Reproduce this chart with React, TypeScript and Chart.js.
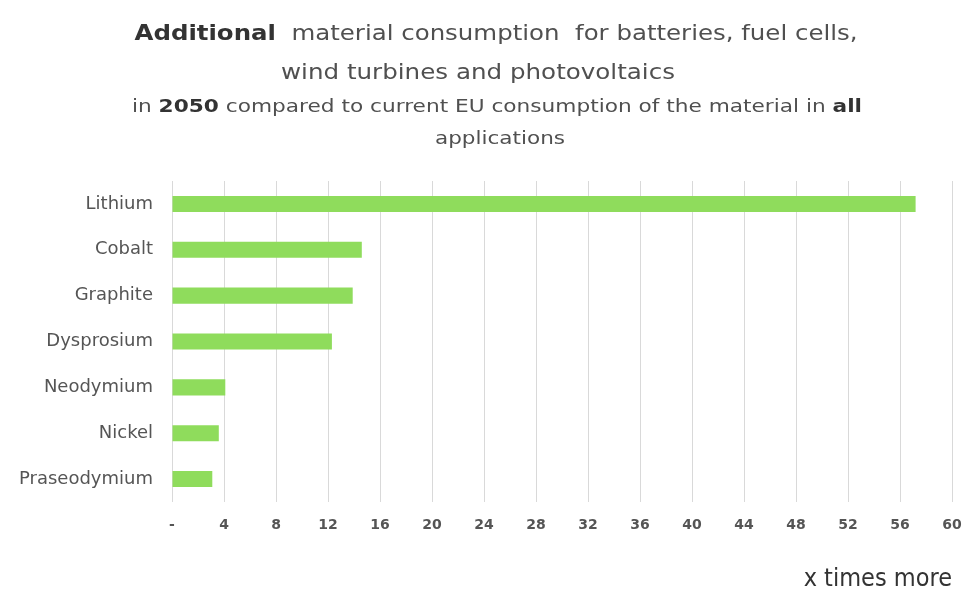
import React, { useEffect, useRef } from "react";
import { Chart, registerables } from "chart.js";

Chart.register(...registerables);

// Materials, top to bottom
const materials = [
  "Lithium",
  "Cobalt",
  "Graphite",
  "Dysprosium",
  "Neodymium",
  "Nickel",
  "Praseodymium",
];

// Additional 2050 demand as a multiple of today's EU consumption
const timesMore = [57.2, 14.6, 13.9, 12.3, 4.1, 3.6, 3.1];

const axisMin = 0;
const axisMax = 60;
const axisStep = 4;
const zeroTickLabel = "-";
const axisTitle = "x times more";

const FONT = "'DejaVu Sans', 'Open Sans', sans-serif";

type Run = [string, boolean];
interface TitleLine {
  runs: Run[];
  size: number;
  cx: number;
  y: number;
  width: number;
}

// Headline and sub-headline, drawn on the canvas with mixed weights
const titleLines: TitleLine[] = [
  {
    runs: [
      ["Additional", true],
      ["  material consumption  for batteries, fuel cells,", false],
    ],
    size: 22,
    cx: 496,
    y: 40,
    width: 723,
  },
  {
    runs: [["wind turbines and photovoltaics", false]],
    size: 22,
    cx: 478,
    y: 79,
    width: 394,
  },
  {
    runs: [
      ["in ", false],
      ["2050", true],
      [" compared to current EU consumption of the material in ", false],
      ["all", true],
    ],
    size: 18,
    cx: 497,
    y: 112,
    width: 730,
  },
  {
    runs: [["applications", false]],
    size: 18,
    cx: 500,
    y: 144,
    width: 130,
  },
];

const titlePlugin = {
  id: "richTitle",
  afterDraw(chart: Chart) {
    const ctx = chart.ctx;
    ctx.save();
    ctx.textBaseline = "alphabetic";
    ctx.textAlign = "left";
    for (const line of titleLines) {
      const fontFor = (bold: boolean) =>
        `${bold ? "bold " : ""}${line.size}px ${FONT}`;
      let total = 0;
      for (const [text, bold] of line.runs) {
        ctx.font = fontFor(bold);
        total += ctx.measureText(text).width;
      }
      const sx = line.width / total;
      ctx.save();
      ctx.translate(line.cx - line.width / 2, line.y);
      ctx.scale(sx, 1);
      let x = 0;
      for (const [text, bold] of line.runs) {
        ctx.font = fontFor(bold);
        ctx.fillStyle = bold ? "#333333" : "#505050";
        ctx.fillText(text, x, 0);
        x += ctx.measureText(text).width;
      }
      ctx.restore();
    }
    ctx.restore();
  },
};

export default function App() {
  const canvasRef = useRef<HTMLCanvasElement | null>(null);

  useEffect(() => {
    const canvas = canvasRef.current;
    if (!canvas) return;
    const chart = new Chart(canvas, {
      type: "bar",
      data: {
        labels: materials,
        datasets: [
          {
            data: timesMore,
            backgroundColor: "#8fdc5c",
            borderWidth: 0,
            barPercentage: 0.35,
            categoryPercentage: 1,
          },
        ],
      },
      options: {
        indexAxis: "y",
        animation: false,
        responsive: false,
        devicePixelRatio: 1,
        layout: { padding: { top: 181, right: 10, left: 0, bottom: 0 } },
        plugins: {
          legend: { display: false },
          tooltip: { enabled: false },
          title: { display: false },
        },
        scales: {
          x: {
            min: axisMin,
            max: axisMax,
            grid: { color: "#d9d9d9", drawTicks: false, lineWidth: 1 },
            border: { display: false },
            ticks: {
              stepSize: axisStep,
              padding: 15,
              color: "#555555",
              font: { family: FONT, size: 14, weight: "bold" },
              callback: (v: any) => (Number(v) === 0 ? zeroTickLabel : String(v)),
            },
            title: {
              display: true,
              text: axisTitle,
              align: "end",
              color: "#333333",
              font: { family: "'Liberation Sans Narrow', 'DejaVu Sans Condensed', sans-serif", size: 25 },
              padding: { top: 27, bottom: -4 },
            },
            afterFit: (scale: any) => {
              scale.height = 88;
              scale.paddingLeft = 0;
              scale.paddingRight = 0;
            },
          },
          y: {
            grid: { display: false, drawTicks: false },
            border: { display: false },
            ticks: {
              padding: 19,
              color: "#555555",
              font: { family: FONT, size: 18 },
            },
            afterFit: (scale: any) => {
              scale.width = 172;
            },
          },
        },
      },
      plugins: [titlePlugin],
    });
    return () => chart.destroy();
  }, []);

  return (
    <div
      style={{
        position: "fixed",
        left: 0,
        top: 0,
        width: 962,
        height: 590,
        background: "#ffffff",
      }}
    >
      <canvas ref={canvasRef} width={962} height={590} />
    </div>
  );
}
